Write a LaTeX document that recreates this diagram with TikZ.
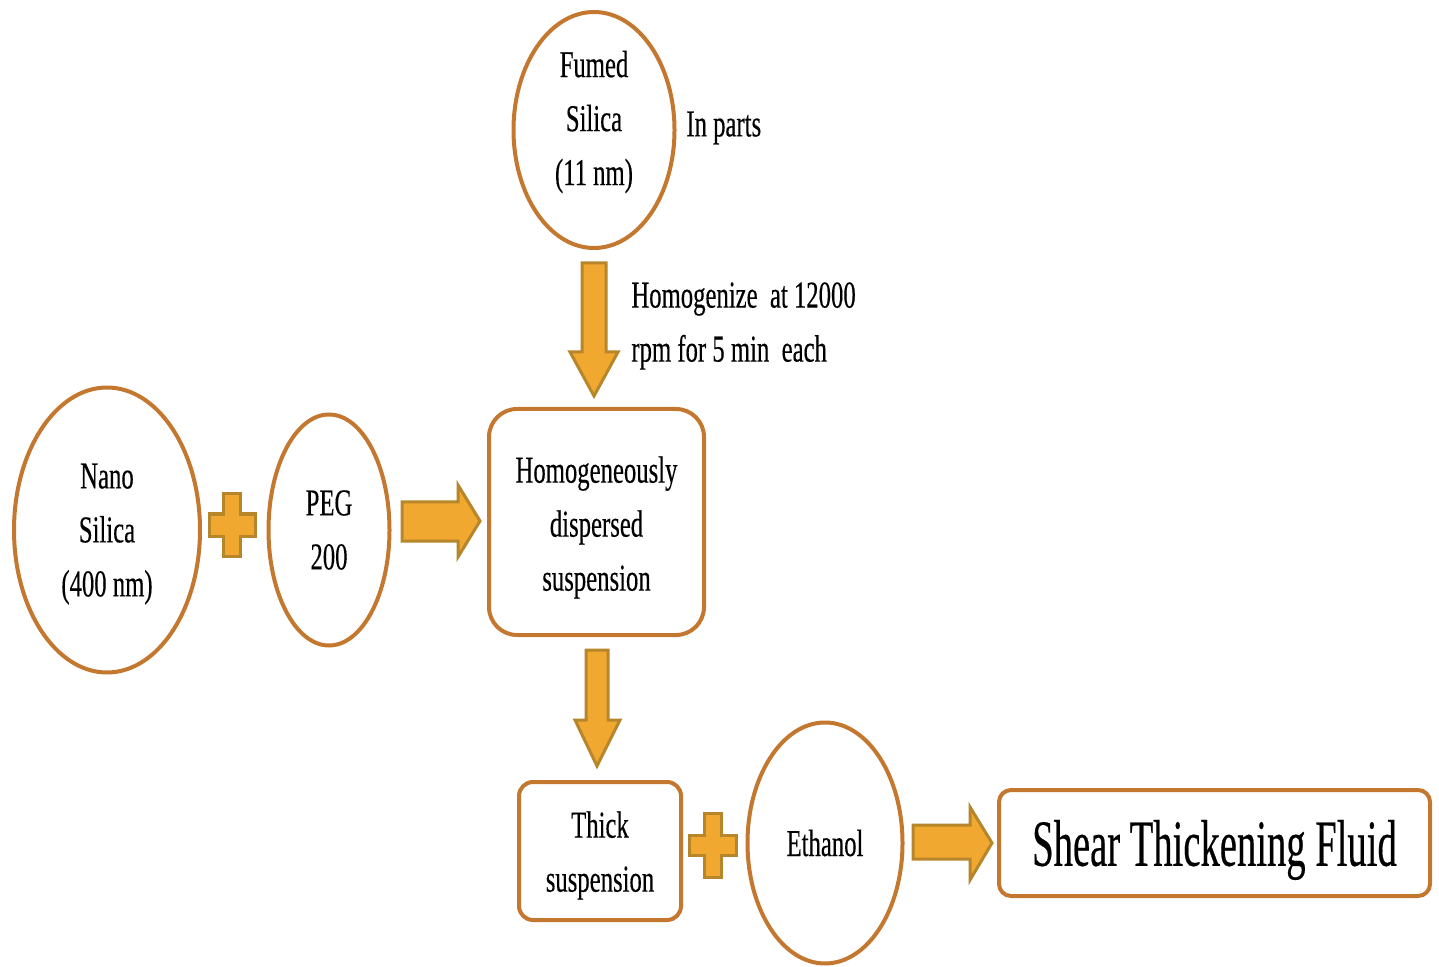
\documentclass[tikz,border=0pt]{standalone}
\usepackage{fontspec}
\newfontfamily\tfont[FakeStretch=0.65,FakeBold=0.3]{Liberation Serif}
\newfontfamily\bigfont[FakeStretch=0.585,FakeBold=0.3]{Liberation Serif}
\usetikzlibrary{shapes.geometric}
\definecolor{ring}{HTML}{C4782F}
\definecolor{arrfill}{HTML}{F0A830}
\definecolor{arredge}{HTML}{B8862A}
\begin{document}
\begin{tikzpicture}[x=0.5pt,y=-0.5pt,
  txt/.style={font=\tfont\fontsize{19}{27}\selectfont, align=center, text=black, inner sep=0pt},
  circ/.style={ellipse, draw=ring, line width=2pt, inner sep=0pt},
  rbox/.style={rectangle, draw=ring, line width=2pt, inner sep=0pt},
  blockarrow/.style={fill=arrfill, draw=arredge, line width=1.5pt, line join=miter}]
\path[use as bounding box, fill=white] (0,0) rectangle (1439,967);

% circles
\node[circ, minimum width=80.5pt, minimum height=118pt] (fumed) at (594,130) {};
\node[circ, minimum width=93pt, minimum height=142.5pt] (nano) at (107,530) {};
\node[circ, minimum width=60.5pt, minimum height=115.5pt] (peg) at (329,530) {};
\node[circ, minimum width=77.5pt, minimum height=120.5pt] (ethanol) at (825,843) {};

% boxes
\node[rbox, rounded corners=14pt, minimum width=107.5pt, minimum height=113pt] (homog) at (596.5,522) {};
\node[rbox, rounded corners=7pt, minimum width=81pt, minimum height=69pt] (thick) at (600,851) {};
\node[rbox, rounded corners=6pt, minimum width=215.5pt, minimum height=53pt] (stf) at (1214.5,843) {};

% texts inside shapes
\node[txt] (fumedtxt) at ([yshift=4pt]fumed.center) {Fumed\\Silica\\(11 nm)};
\node[txt] (nanotxt) at ([yshift=-2pt]nano.center) {Nano\\Silica\\(400 nm)};
\node[txt] (pegtxt) at (peg.center) {PEG\\200};
\node[txt] (ethanoltxt) at (ethanol.center) {Ethanol};
\node[txt] (homogtxt) at ([yshift=-2.75pt]homog.center) {Homogeneously\\dispersed\\suspension};
\node[txt] (thicktxt) at ([yshift=-2.25pt]thick.center) {Thick\\suspension};
\node[txt, font=\bigfont\fontsize{33}{40}\selectfont] (stftxt) at ([yshift=-3.5pt]stf.center) {Shear Thickening Fluid};

% labels
\node[txt, anchor=west] (inparts) at (686,128) {In parts};
\node[txt, anchor=west, align=left] (homtxt) at (631,326) {Homogenize\ \ at 12000\\rpm for 5 min\ \ each};

% block arrows
\draw[blockarrow] (582,263) -- (606,263) -- (606,352) -- (618,352) -- (594,396) -- (570,352) -- (582,352) -- cycle;
\draw[blockarrow] (402,502) -- (458,502) -- (458,485) -- (480,521) -- (458,557) -- (458,541) -- (402,541) -- cycle;
\draw[blockarrow] (586,650) -- (608,650) -- (608,720) -- (620,720) -- (597,766) -- (575,720) -- (586,720) -- cycle;
\draw[blockarrow] (913,825) -- (970,825) -- (970,807) -- (992,843) -- (970,880) -- (970,859) -- (913,859) -- cycle;

% plus signs
\begin{scope}[shift={(232,525)}]
\draw[blockarrow] (-8.5,-31) -- (8.5,-31) -- (8.5,-11) -- (23,-11) -- (23,11) -- (8.5,11) -- (8.5,31) -- (-8.5,31) -- (-8.5,11) -- (-23,11) -- (-23,-11) -- (-8.5,-11) -- cycle;
\end{scope}
\begin{scope}[shift={(713,845)}]
\draw[blockarrow] (-8.5,-32) -- (8.5,-32) -- (8.5,-10) -- (23.5,-10) -- (23.5,10) -- (8.5,10) -- (8.5,32) -- (-8.5,32) -- (-8.5,10) -- (-23.5,10) -- (-23.5,-10) -- (-8.5,-10) -- cycle;
\end{scope}
\end{tikzpicture}
\end{document}
